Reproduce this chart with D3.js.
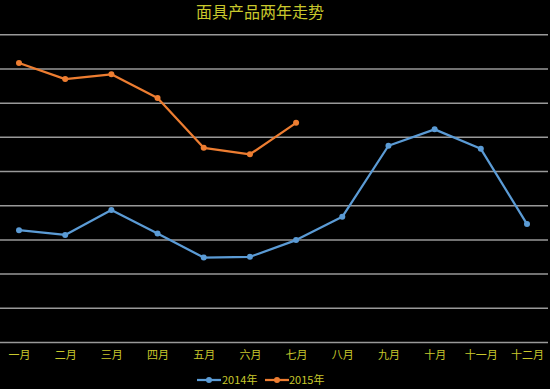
<!DOCTYPE html>
<html>
<head>
<meta charset="utf-8">
<script src="https://cdn.jsdelivr.net/npm/d3@7/dist/d3.min.js"></script>
<style>
  html, body { margin: 0; padding: 0; background: #000; }
  svg { display: block; }
</style>
</head>
<body>
<svg id="chart" width="550" height="389"></svg>
<script>
const title = "面具产品两年走势";
const months = ["一月","二月","三月","四月","五月","六月","七月","八月","九月","十月","十一月","十二月"];
const seriesNames = ["2014年", "2015年"];
const values2014 = [32.7, 31.3, 38.6, 31.7, 24.7, 24.9, 29.8, 36.6, 57.4, 62.2, 56.5, 34.5];
const values2015 = [81.6, 76.9, 78.3, 71.4, 56.8, 54.9, 64.1];
const yTicks = [0, 10, 20, 30, 40, 50, 60, 70, 80, 90];
const colors = ["#5b9bd5", "#ed7d31"];
const textColor = "#c8c82c";

const svg = d3.select("#chart");
const W = 550, H = 389;
svg.append("rect").attr("width", W).attr("height", H).attr("fill", "#000");

const x = d3.scalePoint().domain(months).range([19, 527]);
const y = d3.scaleLinear().domain([0, 90]).range([342, 34.3]);

// gridlines
const grid = svg.append("g")
  .call(d3.axisLeft(y).tickValues(yTicks).tickSize(-548).tickFormat(""));
grid.select(".domain").remove();
grid.selectAll(".tick line").attr("stroke", "#999999").attr("stroke-width", 1.5).attr("x1", 0).attr("x2", 548);

// x axis labels
const xa = svg.append("g").attr("transform", "translate(0,342)")
  .call(d3.axisBottom(x).tickSize(0).tickPadding(9));
xa.select(".domain").remove();
xa.selectAll("text")
  .attr("fill", textColor)
  .style("font-family", "'Noto Sans CJK SC', sans-serif")
  .style("font-size", "11px");

// title
svg.append("text")
  .attr("x", 260).attr("y", 18)
  .attr("text-anchor", "middle")
  .attr("fill", textColor)
  .style("font-family", "'Noto Sans CJK SC', sans-serif")
  .style("font-size", "16px")
  .text(title);

const line = d3.line().x((d, i) => x(months[i])).y(d => y(d));
const data = [values2014, values2015];
data.forEach((vals, si) => {
  svg.append("path").datum(vals)
    .attr("d", line)
    .attr("fill", "none")
    .attr("stroke", colors[si])
    .attr("stroke-width", 2.25)
    .attr("stroke-linejoin", "round");
  svg.append("g").selectAll("circle").data(vals).join("circle")
    .attr("cx", (d, i) => x(months[i]))
    .attr("cy", d => y(d))
    .attr("r", 3)
    .attr("fill", colors[si]);
});

// legend
const legendItems = [{x0: 197, tx: 222}, {x0: 265, tx: 289}];
seriesNames.forEach((name, i) => {
  const g = svg.append("g");
  const lx = legendItems[i].x0, ly = 380;
  g.append("line").attr("x1", lx).attr("x2", lx + 24).attr("y1", ly).attr("y2", ly)
    .attr("stroke", colors[i]).attr("stroke-width", 2.25);
  g.append("circle").attr("cx", lx + 12).attr("cy", ly).attr("r", 3).attr("fill", colors[i]);
  g.append("text").attr("x", legendItems[i].tx).attr("y", ly + 4)
    .attr("fill", textColor)
    .style("font-family", "'Noto Sans CJK SC', sans-serif")
    .style("font-size", "11px")
    .text(name);
});
</script>
</body>
</html>
